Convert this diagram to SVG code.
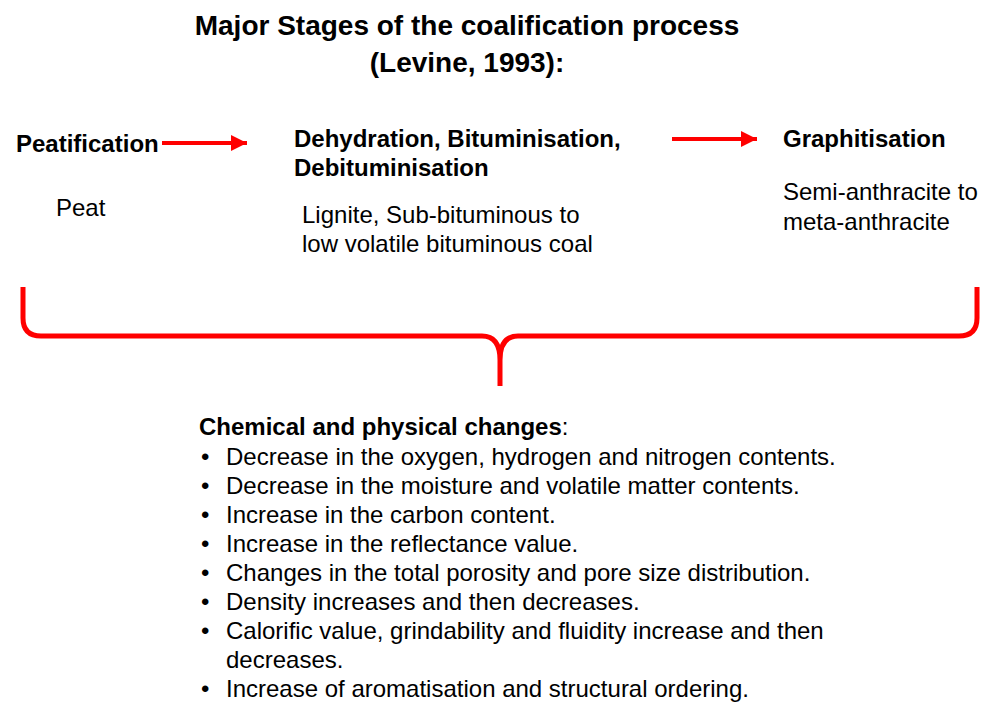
<svg xmlns="http://www.w3.org/2000/svg" width="1000" height="717" viewBox="0 0 1000 717">
<defs>
<style>
text{font-family:"Liberation Sans",Arial,sans-serif;fill:#000}
.t{font-size:28px;font-weight:bold}
.h{font-size:24px;font-weight:bold}
.r{font-size:24px}
.b{font-weight:bold}
.red{stroke:#f00;fill:none}
</style>
<marker id="ah" markerWidth="4" markerHeight="4" refX="4" refY="2" orient="auto" markerUnits="strokeWidth">
<path d="M0,0 L4,2 L0,4 Z" fill="#f00"/>
</marker>
</defs>
<rect width="1000" height="717" fill="#fff"/>
<g id="title">
<text class="t" x="467" y="35" text-anchor="middle">Major Stages of the coalification process</text>
<text class="t" x="467" y="72" text-anchor="middle">(Levine, 1993):</text>
</g>
<g id="peatification">
<text class="h" x="16" y="152">Peatification</text>
<text class="r" x="56" y="216">Peat</text>
</g>
<g id="dehydration">
<text class="h" x="294" y="147">Dehydration, Bituminisation,</text>
<text class="h" x="294" y="176">Debituminisation</text>
<text class="r" x="302" y="223">Lignite, Sub-bituminous to</text>
<text class="r" x="302" y="252">low volatile bituminous coal</text>
</g>
<g id="graphitisation">
<text class="h" x="783" y="147">Graphitisation</text>
<text class="r" x="783" y="200">Semi-anthracite to</text>
<text class="r" x="783" y="230">meta-anthracite</text>
</g>
<g id="connectors">
<line class="red" x1="162" y1="143" x2="247" y2="143" stroke-width="4" marker-end="url(#ah)"/>
<line class="red" x1="672" y1="139" x2="757" y2="139" stroke-width="4" marker-end="url(#ah)"/>
<path class="red" stroke-width="5" d="M23,287 L23,318 Q23,336 41,336 L482,336 Q500,336 500,360 L500,386 M500,360 Q500,336 518,336 L959,336 Q977,336 977,318 L977,287"/>
</g>
<g id="changes">
<text class="r" x="199" y="435"><tspan class="b">Chemical and physical changes</tspan>:</text>
<text class="r" x="201" y="465">•</text><text class="r" x="226" y="465">Decrease in the oxygen, hydrogen and nitrogen contents.</text>
<text class="r" x="201" y="494">•</text><text class="r" x="226" y="494">Decrease in the moisture and volatile matter contents.</text>
<text class="r" x="201" y="523">•</text><text class="r" x="226" y="523">Increase in the carbon content.</text>
<text class="r" x="201" y="552">•</text><text class="r" x="226" y="552">Increase in the reflectance value.</text>
<text class="r" x="201" y="581">•</text><text class="r" x="226" y="581">Changes in the total porosity and pore size distribution.</text>
<text class="r" x="201" y="610">•</text><text class="r" x="226" y="610">Density increases and then decreases.</text>
<text class="r" x="201" y="639">•</text><text class="r" x="226" y="639">Calorific value, grindability and fluidity increase and then</text>
<text class="r" x="226" y="668">decreases.</text>
<text class="r" x="201" y="697">•</text><text class="r" x="226" y="697">Increase of aromatisation and structural ordering.</text>
</g>
</svg>
